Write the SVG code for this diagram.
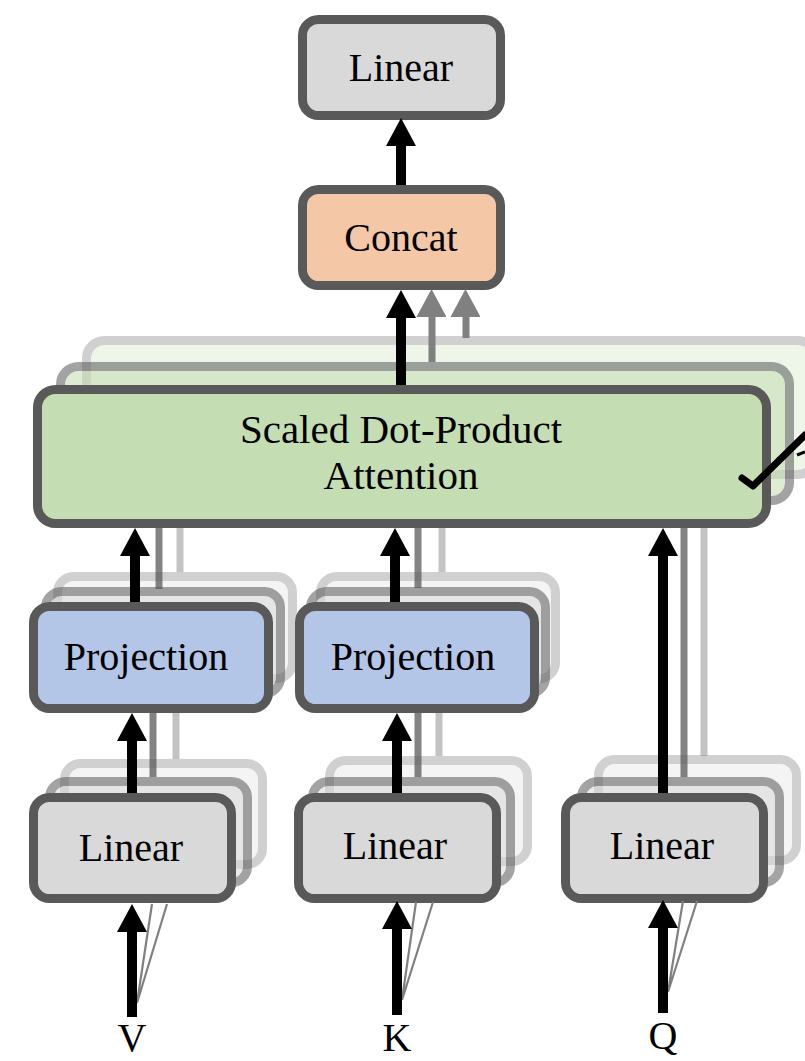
<svg xmlns="http://www.w3.org/2000/svg" width="805" height="1061" viewBox="0 0 805 1061">
<defs>
<style>
.box{stroke:#595959;stroke-width:9}
.lin{fill:#D9D9D9}
.cat{fill:#F4C7A7}
.prj{fill:#B4C6E7}
.att{fill:#C5DDB2}
.l2{opacity:0.55}
.l3{opacity:0.28}
.t{font-family:"Liberation Serif","Times New Roman",serif;font-size:40px;fill:#000;text-anchor:middle}
.ta{font-size:41px}
.blk{stroke:#000;stroke-width:10;fill:none}
.g1{stroke:#5a5a5a;stroke-opacity:0.75;stroke-width:7;fill:none}
.g2{stroke:#7a7a7a;stroke-opacity:0.45;stroke-width:7;fill:none}
.thin{stroke:#808080;stroke-width:2.2;fill:none}
</style>
<marker id="ab" markerUnits="userSpaceOnUse" markerWidth="30" markerHeight="30" refX="0" refY="15" orient="auto" viewBox="0 0 28 30"><path d="M0,0 L28,15 L0,30 z" fill="#000"/></marker>
<marker id="ag" markerUnits="userSpaceOnUse" markerWidth="30" markerHeight="30" refX="0" refY="15" orient="auto" viewBox="0 0 27 29"><path d="M0,0 L27,14.5 L0,29 z" fill="#808080"/></marker>
</defs>
<rect width="805" height="1061" fill="#fff"/>

<g id="linear-top">
<rect class="box lin" x="302.5" y="19.5" width="198" height="96" rx="16"/>
<text class="t" x="401" y="81">Linear</text>
</g>

<g id="concat">
<rect class="box cat" x="302.5" y="189.5" width="198" height="96" rx="16"/>
<text class="t" x="401" y="251">Concat</text>
</g>

<g id="attention">
<rect class="box att l3" x="86.5" y="340.5" width="729" height="134" rx="18"/>
<rect class="box att l2" x="60.5" y="366.5" width="729" height="134" rx="18"/>
<rect class="box att" x="37.5" y="389.5" width="729" height="134" rx="18"/>
<text class="t ta" x="401" y="443">Scaled Dot-Product</text>
<text class="t ta" x="401" y="489">Attention</text>
</g>

<g id="projection-v">
<rect class="box lin l3" x="57.5" y="576.5" width="235" height="102" rx="16"/>
<rect class="box lin l2" x="45.5" y="591.5" width="235" height="102" rx="16"/>
<rect class="box prj" x="33.5" y="606.5" width="235" height="102" rx="16"/>
<text class="t" x="146" y="670">Projection</text>
</g>

<g id="projection-k">
<rect class="box lin l3" x="320.5" y="576.5" width="235" height="102" rx="16"/>
<rect class="box lin l2" x="310.5" y="591.5" width="235" height="102" rx="16"/>
<rect class="box prj" x="299.5" y="606.5" width="235" height="102" rx="16"/>
<text class="t" x="413" y="670">Projection</text>
</g>

<g id="linear-v">
<rect class="box lin l3" x="64.5" y="763.5" width="198" height="101" rx="16"/>
<rect class="box lin l2" x="49.5" y="781.5" width="198" height="101" rx="16"/>
<rect class="box lin" x="33.5" y="797.5" width="198" height="101" rx="16"/>
<text class="t" x="131" y="861">Linear</text>
</g>

<g id="linear-k">
<rect class="box lin l3" x="329.5" y="760.5" width="198" height="101" rx="16"/>
<rect class="box lin l2" x="312.5" y="781.5" width="198" height="101" rx="16"/>
<rect class="box lin" x="298.5" y="797.5" width="198" height="101" rx="16"/>
<text class="t" x="395" y="859">Linear</text>
</g>

<g id="linear-q">
<rect class="box lin l3" x="598.5" y="759.5" width="198" height="101" rx="16"/>
<rect class="box lin l2" x="581.5" y="781.5" width="198" height="101" rx="16"/>
<rect class="box lin" x="565.5" y="797.5" width="198" height="101" rx="16"/>
<text class="t" x="662" y="859">Linear</text>
</g>

<g id="connectors">
<line class="blk" x1="401" y1="185" x2="401" y2="146" marker-end="url(#ab)"/>
<line class="blk" x1="401" y1="385" x2="401" y2="318" marker-end="url(#ab)"/>
<line stroke="#808080" stroke-width="7" x1="432" y1="362" x2="432" y2="317" marker-end="url(#ag)"/>
<line stroke="#808080" stroke-width="7" x1="466" y1="338" x2="466" y2="317" marker-end="url(#ag)"/>
<line class="g2" x1="180" y1="572" x2="180" y2="528"/>
<line class="g1" x1="159" y1="589" x2="159" y2="528"/>
<line class="blk" x1="135" y1="602" x2="135" y2="556" marker-end="url(#ab)"/>
<line class="g2" x1="442" y1="572" x2="442" y2="528"/>
<line class="g1" x1="418" y1="588" x2="418" y2="528"/>
<line class="blk" x1="395" y1="602" x2="395" y2="556" marker-end="url(#ab)"/>
<line class="g2" x1="704" y1="756" x2="704" y2="528"/>
<line class="g1" x1="684" y1="777" x2="684" y2="528"/>
<line class="blk" x1="663" y1="793" x2="663" y2="556" marker-end="url(#ab)"/>
<line class="g2" x1="176" y1="759" x2="176" y2="713"/>
<line class="g1" x1="153" y1="777" x2="153" y2="713"/>
<line class="blk" x1="132" y1="793" x2="132" y2="741" marker-end="url(#ab)"/>
<line class="g2" x1="439" y1="756" x2="439" y2="713"/>
<line class="g1" x1="418" y1="777" x2="418" y2="713"/>
<line class="blk" x1="397" y1="793" x2="397" y2="741" marker-end="url(#ab)"/>
<path class="thin" d="M137,1003 L152,904 M137,1003 L167,904"/>
<line class="blk" x1="132" y1="1017" x2="132" y2="932" marker-end="url(#ab)"/>
<path class="thin" d="M402,1000 L416,902 M402,1000 L433,902"/>
<line class="blk" x1="397" y1="1015" x2="397" y2="929" marker-end="url(#ab)"/>
<path class="thin" d="M668,992 L683,901 M668,992 L697,901"/>
<line class="blk" x1="663" y1="1013" x2="663" y2="928" marker-end="url(#ab)"/>
<path d="M742,478 L753,486 L805,435" stroke="#000" stroke-width="7" fill="none" stroke-linejoin="round" stroke-linecap="round"/>
<path d="M797,455 L805,452" stroke="#000" stroke-width="3" fill="none"/>
</g>

<g id="labels">
<text class="t" x="132" y="1051">V</text>
<text class="t" x="397" y="1051">K</text>
<text class="t" x="663" y="1049">Q</text>
</g>
</svg>
